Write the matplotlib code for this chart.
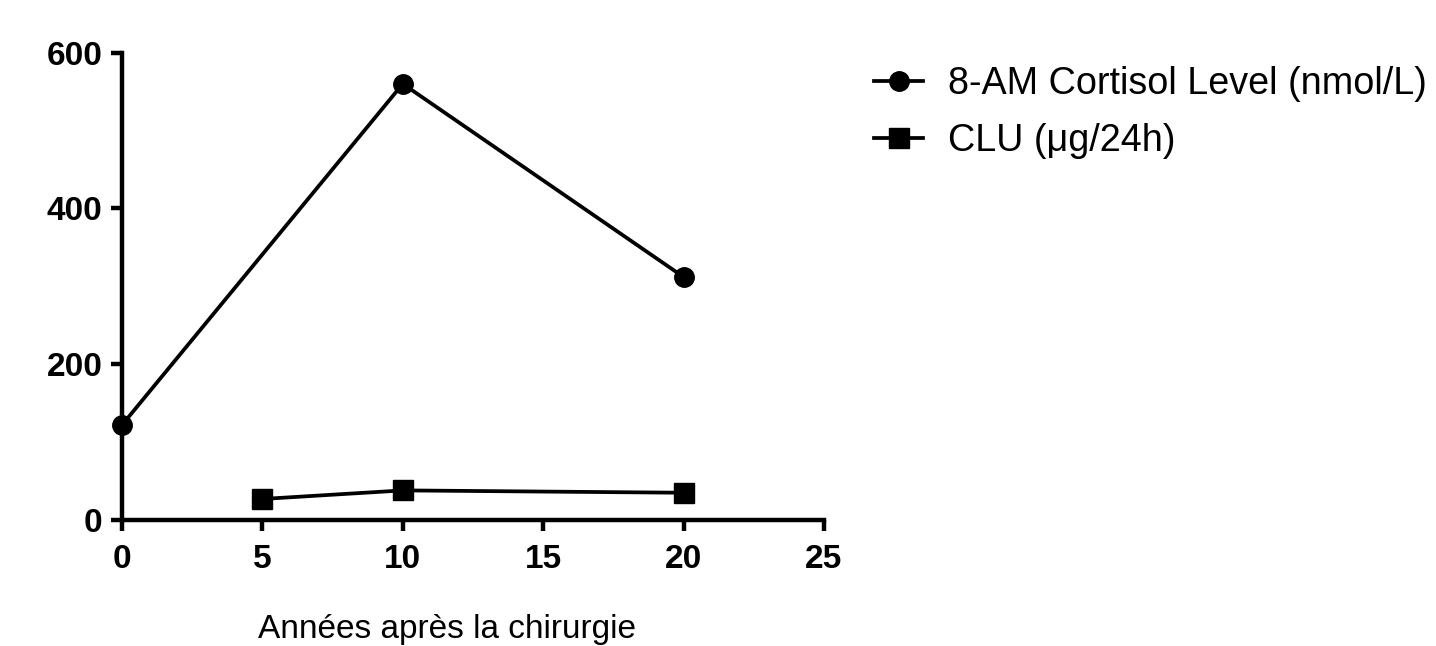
import matplotlib
matplotlib.use("Agg")
import matplotlib.pyplot as plt

years_cortisol = [0, 10, 20]
cortisol = [122, 560, 312]
years_clu = [5, 10, 20]
clu = [27, 38, 35]
xticks = [0, 5, 10, 15, 20, 25]
yticks = [0, 200, 400, 600]

plt.rcParams['font.family'] = ['Liberation Sans', 'DejaVu Sans']

W, H = 1436, 646
fig = plt.figure(figsize=(W / 100, H / 100), dpi=100)
ax = fig.add_axes([122 / W, 1 - 520 / H, (824 - 122) / W, (520 - 52.7) / H])

ax.plot(years_cortisol, cortisol, color='black', lw=2.7, marker='o', ms=14,
        label='8-AM Cortisol Level (nmol/L)', clip_on=False, zorder=3)
ax.plot(years_clu, clu, color='black', lw=2.7, marker='s', ms=14,
        label='CLU (\u03bcg/24h)', clip_on=False, zorder=3)

ax.set_xlim(0, 25)
ax.set_ylim(0, 600)
ax.set_xticks(xticks)
ax.set_yticks(yticks)
for s in ['top', 'right']:
    ax.spines[s].set_visible(False)
for s in ['left', 'bottom']:
    ax.spines[s].set_linewidth(3.2)
ax.tick_params(axis='both', width=3.2, length=8, labelsize=24)
ax.tick_params(axis='x', pad=9)
ax.tick_params(axis='y', pad=6)
for lab in ax.get_xticklabels() + ax.get_yticklabels():
    lab.set_fontweight('bold')

# x-axis title placed in figure coordinates (shifted left of axes centre as in reference)
fig.text(447.5 / W, 1 - 638 / H, 'Années après la chirurgie', fontsize=24,
         ha='center', va='baseline')

fig.legend(loc='upper left', bbox_to_anchor=(874 / W, 1 - 66 / H), frameon=False,
           fontsize=27.2, handlelength=1.3, handletextpad=0.65, labelspacing=0.55,
           borderaxespad=0, borderpad=0, markerscale=1.0)

fig.savefig('out.png', dpi=100)
